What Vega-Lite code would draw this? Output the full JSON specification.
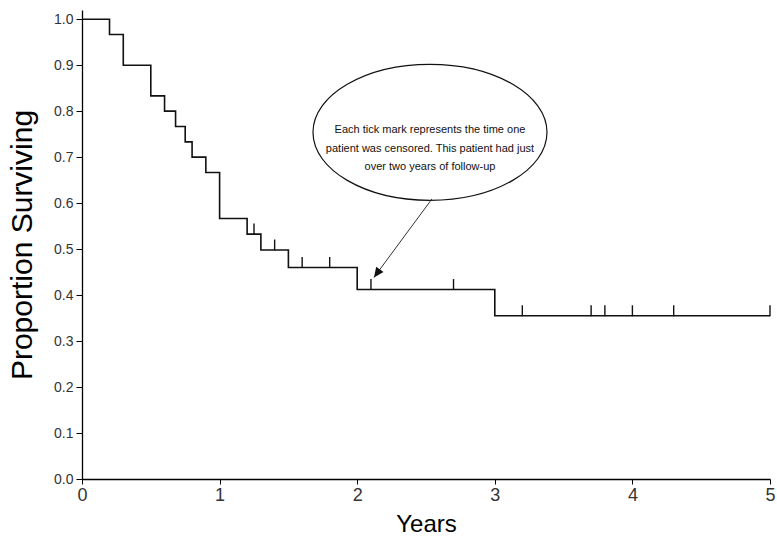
{
  "$schema": "https://vega.github.io/schema/vega-lite/v6.json",
  "width": 688,
  "height": 469,
  "autosize": {"type": "none"},
  "padding": {"left": 82, "top": 10, "right": 7, "bottom": 61},
  "background": "white",
  "config": {"view": {"stroke": null}, "font": "Liberation Sans"},
  "datasets": {
    "km": [
      {"t": 0, "s": 1.0}, {"t": 0.2, "s": 0.9667}, {"t": 0.3, "s": 0.9}, {"t": 0.5, "s": 0.8333},
      {"t": 0.6, "s": 0.8}, {"t": 0.68, "s": 0.7667}, {"t": 0.75, "s": 0.7333}, {"t": 0.8, "s": 0.7},
      {"t": 0.9, "s": 0.6667}, {"t": 1.0, "s": 0.5667}, {"t": 1.2, "s": 0.5326}, {"t": 1.3, "s": 0.498},
      {"t": 1.5, "s": 0.46}, {"t": 2.0, "s": 0.412}, {"t": 3.0, "s": 0.355}, {"t": 5.0, "s": 0.355}
    ],
    "cens": [
      {"t": 1.25, "s": 0.5326}, {"t": 1.4, "s": 0.498}, {"t": 1.6, "s": 0.46}, {"t": 1.8, "s": 0.46},
      {"t": 2.1, "s": 0.412}, {"t": 2.7, "s": 0.412}, {"t": 3.2, "s": 0.355}, {"t": 3.7, "s": 0.355},
      {"t": 3.8, "s": 0.355}, {"t": 4.0, "s": 0.355}, {"t": 4.3, "s": 0.355}, {"t": 5.0, "s": 0.355}
    ],
    "ell": [{"t": 2.529, "s": 0.754}],
    "note": [{"t": 2.529, "s": 0.7587, "label": "Each tick mark represents the time one\npatient was censored. This patient had just\nover two years of follow-up"}],
    "arrow": [{"t": 2.543, "s": 0.609, "t2": 2.122, "s2": 0.4385}]
  },
  "layer": [
    {
      "data": {"name": "km"},
      "mark": {"type": "line", "interpolate": "step-after", "color": "#111111", "strokeWidth": 1.6},
      "encoding": {
        "x": {"field": "t", "type": "quantitative", "scale": {"domain": [0, 5], "nice": false, "zero": false},
          "axis": {"values": [0, 1, 2, 3, 4, 5], "format": "d", "grid": false, "labelFlush": false, "domainColor": "#000000", "domainWidth": 1.3,
            "tickColor": "#000000", "tickSize": 5, "labelFontSize": 18, "labelColor": "#333333", "labelPadding": 2,
            "title": "Years", "titleFontSize": 24, "titleFontWeight": "normal", "titleColor": "#000000", "titlePadding": 8}},
        "y": {"field": "s", "type": "quantitative", "scale": {"domain": [0, 1.02], "nice": false, "zero": false},
          "axis": {"values": [0, 0.1, 0.2, 0.3, 0.4, 0.5, 0.6, 0.7, 0.8, 0.9, 1.0], "format": ".1f", "grid": false, "labelFlush": false,
            "domainColor": "#000000", "domainWidth": 1.3, "tickColor": "#000000", "tickSize": 6, "labelFontSize": 14,
            "labelColor": "#333333", "labelPadding": 3, "title": "Proportion Surviving", "titleFontSize": 30,
            "titleFontWeight": "normal", "titleColor": "#000000", "titlePadding": 16}}
      }
    },
    {
      "data": {"name": "cens"},
      "mark": {"type": "tick", "orient": "vertical", "size": 11, "thickness": 1.4, "yOffset": -5, "color": "#111111", "opacity": 1},
      "encoding": {
        "x": {"field": "t", "type": "quantitative"},
        "y": {"field": "s", "type": "quantitative"}
      }
    },
    {
      "data": {"name": "ell"},
      "mark": {"type": "point", "shape": "M-1,0 A1,0.581 0 1,1 1,0 A1,0.581 0 1,1 -1,0 Z", "size": 54756, "filled": false, "stroke": "#111111", "strokeWidth": 1.2, "opacity": 1},
      "encoding": {
        "x": {"field": "t", "type": "quantitative"},
        "y": {"field": "s", "type": "quantitative"}
      }
    },
    {
      "data": {"name": "note"},
      "mark": {"type": "text", "align": "center", "baseline": "middle", "fontSize": 11, "lineHeight": 18.5, "lineBreak": "\n", "color": "#111111"},
      "encoding": {
        "x": {"field": "t", "type": "quantitative"},
        "y": {"field": "s", "type": "quantitative"},
        "text": {"field": "label"}
      }
    },
    {
      "data": {"name": "arrow"},
      "mark": {"type": "rule", "color": "#333333", "strokeWidth": 1},
      "encoding": {
        "x": {"field": "t", "type": "quantitative"},
        "y": {"field": "s", "type": "quantitative"},
        "x2": {"field": "t2"},
        "y2": {"field": "s2"}
      }
    },
    {
      "data": {"name": "arrow"},
      "mark": {"type": "point", "shape": "M0,0 L0.45,1 L-0.45,1 Z", "size": 400, "filled": true, "color": "#111111", "opacity": 1, "angle": 215.8},
      "encoding": {
        "x": {"field": "t2", "type": "quantitative"},
        "y": {"field": "s2", "type": "quantitative"}
      }
    }
  ]
}
